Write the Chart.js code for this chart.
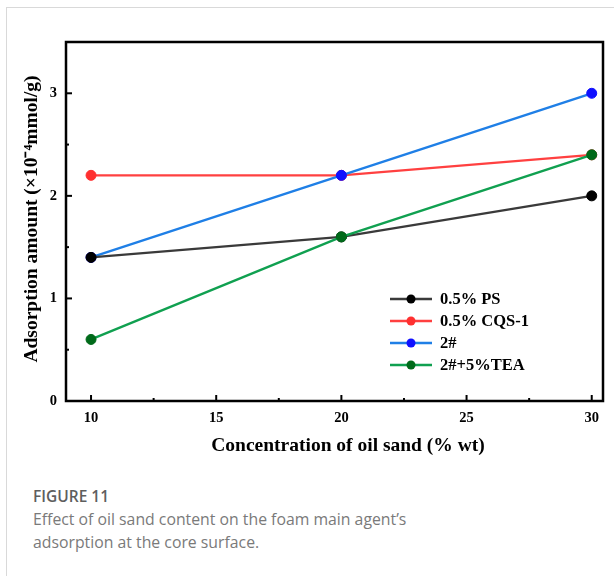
<!DOCTYPE html>
<html>
<head>
<meta charset="utf-8">
<script src="https://cdn.jsdelivr.net/npm/chart.js@4.4.1/dist/chart.umd.min.js"></script>
<style>
  html, body { margin: 0; padding: 0; background: #fff; }
  body { width: 614px; height: 576px; position: relative; overflow: hidden; }
  .card { position: absolute; left: 6px; top: 7px; width: 620px; height: 600px;
          border-left: 1.5px solid #d9d9d9; border-top: 1.5px solid #d9d9d9; }
  #wrap { position: absolute; left: 0; top: 0; width: 614px; height: 470px; }
  .cap { position: absolute; left: 33px; top: 485px; font-family: "Open Sans", "Noto Sans", sans-serif;
         color: #7a7a7a; font-size: 15.8px; line-height: 23px; }
  .cap b { color: #5e5e5e; font-weight: 600; display: block; font-size: 15.5px; }
</style>
</head>
<body>
<div class="card"></div>
<div id="wrap"><canvas id="c" width="614" height="470"></canvas></div>
<div class="cap"><b>FIGURE 11</b>Effect of oil sand content on the foam main agent’s<br>adsorption at the core surface.</div>
<script>
// Oil sand concentration (% wt) and adsorption (×10⁻⁴ mmol/g)
const concentrations = [10, 20, 30];
const seriesNames = ['0.5% PS', '0.5% CQS-1', '2#', '2#+5%TEA'];
const psValues = [1.4, 1.6, 2.0];
const cqsValues = [2.2, 2.2, 2.4];
const twoValues = [1.4, 2.2, 3.0];
const teaValues = [0.6, 1.6, 2.4];
const xTickValues = [10, 15, 20, 25, 30];
const xMinorTicks = [12.5, 17.5, 22.5, 27.5];
const yTickValues = [0, 1, 2, 3];
const yMinorTicks = [0.5, 1.5, 2.5];
const xTitle = 'Concentration of oil sand (% wt)';
const yTitle = 'Adsorption amount (×10⁻⁴mmol/g)';

const lineColors = ['#3a3a3a', '#ff4040', '#1f7fe6', '#10a050'];
const markerColors = ['#000000', '#ff3030', '#1010ff', '#006a1a'];
const serif = '"Liberation Serif", "Times New Roman", serif';

function toPoints(vals) { return concentrations.map((x, i) => ({ x: x, y: vals[i] })); }

const allValues = [psValues, cqsValues, twoValues, teaValues];
const datasets = allValues.map((vals, i) => ({
  label: seriesNames[i],
  data: toPoints(vals),
  borderColor: lineColors[i],
  borderWidth: 2.4,
  pointRadius: 5,
  pointHoverRadius: 5,
  pointBackgroundColor: markerColors[i],
  pointBorderColor: markerColors[i],
  pointBorderWidth: 1,
  tension: 0
}));
// draw order: PS and TEA on top of the others
datasets[0].order = 2; datasets[1].order = 4; datasets[2].order = 3; datasets[3].order = 1;

const framePlugin = {
  id: 'frame',
  afterDatasetsDraw(chart) {
    const { ctx, chartArea: a, scales } = chart;
    ctx.save();
    ctx.strokeStyle = '#000';
    ctx.lineWidth = 2.5;
    ctx.strokeRect(a.left, a.top, a.right - a.left, a.bottom - a.top);
    ctx.lineWidth = 2;
    // inward ticks
    xTickValues.forEach(v => { const px = scales.x.getPixelForValue(v);
      ctx.beginPath(); ctx.moveTo(px, a.bottom); ctx.lineTo(px, a.bottom - 6); ctx.stroke(); });
    xMinorTicks.forEach(v => { const px = scales.x.getPixelForValue(v);
      ctx.beginPath(); ctx.moveTo(px, a.bottom); ctx.lineTo(px, a.bottom - 3); ctx.stroke(); });
    yTickValues.forEach(v => { const py = scales.y.getPixelForValue(v);
      ctx.beginPath(); ctx.moveTo(a.left, py); ctx.lineTo(a.left + 6, py); ctx.stroke(); });
    yMinorTicks.forEach(v => { const py = scales.y.getPixelForValue(v);
      ctx.beginPath(); ctx.moveTo(a.left, py); ctx.lineTo(a.left + 3, py); ctx.stroke(); });

    // axis titles
    ctx.fillStyle = '#000';
    ctx.font = 'bold 19.5px ' + serif;
    ctx.textAlign = 'center';
    ctx.textBaseline = 'middle';
    ctx.fillText(xTitle, 348, 446);
    ctx.save();
    ctx.translate(32, 219);
    ctx.rotate(-Math.PI / 2);
    ctx.fillText(yTitle, 0, 0);
    ctx.restore();

    // legend
    const lx = 390, ly = 299, gap = 22;
    ctx.font = 'bold 16.5px ' + serif;
    ctx.textAlign = 'left';
    datasets.forEach((d, i) => {
      const y = ly + i * gap;
      ctx.strokeStyle = lineColors[i];
      ctx.lineWidth = 2.4;
      ctx.beginPath(); ctx.moveTo(lx, y); ctx.lineTo(lx + 42, y); ctx.stroke();
      ctx.fillStyle = markerColors[i];
      ctx.beginPath(); ctx.arc(lx + 21, y, 4.5, 0, Math.PI * 2); ctx.fill();
      ctx.fillStyle = '#000';
      ctx.fillText(d.label, lx + 50, y + 1);
    });
    ctx.restore();
  }
};

new Chart(document.getElementById('c'), {
  type: 'line',
  data: { datasets: datasets },
  options: {
    responsive: false,
    animation: false,
    layout: { padding: { left: 0, top: 42, right: 11, bottom: 0 } },
    plugins: { legend: { display: false }, tooltip: { enabled: false } },
    scales: {
      x: {
        type: 'linear', min: 9, max: 30.45,
        afterBuildTicks: s => { s.ticks = xTickValues.map(v => ({ value: v })); },
        afterFit: s => { s.height = 69; },
        grid: { display: false, drawTicks: false },
        border: { display: false },
        ticks: { color: '#000', padding: 9, font: { family: serif, size: 14.5, weight: 'bold' }, maxRotation: 0 },
        title: { display: false }
      },
      y: {
        type: 'linear', min: 0, max: 3.5,
        afterBuildTicks: s => { s.ticks = yTickValues.map(v => ({ value: v })); },
        afterFit: s => { s.width = 66; },
        grid: { display: false, drawTicks: false },
        border: { display: false },
        ticks: { color: '#000', padding: 9, font: { family: serif, size: 14.5, weight: 'bold' } },
        title: { display: false }
      }
    }
  },
  plugins: [framePlugin]
});
</script>
</body>
</html>
